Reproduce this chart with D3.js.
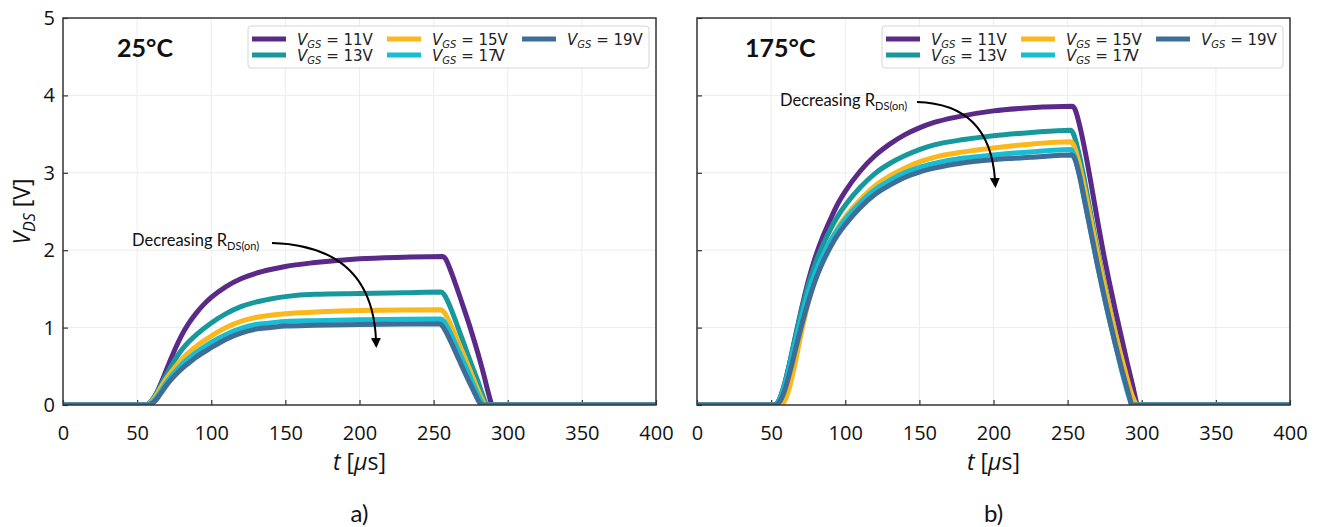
<!DOCTYPE html>
<meta charset="utf-8">
<style>
  body { margin: 0; background: #fff; }
  svg { display: block; }
  .tick text { font-family: "Open Sans", sans-serif; font-size: 20px; fill: #111; }
  .tick line { stroke: #333; stroke-width: 1.2; }
  .domain { display: none; }
</style>
<body>
<div id="chart"></div>
<script src="https://d3js.org/d3.v7.min.js"></script>
<script>
// V_DS traces, [t in us, V_DS in V]
// 25 degC
var vds25_11 = [[0,0],[56,0],[60,0.06],[64,0.19],[68,0.37],[72,0.56],[76,0.74],[80,0.9],[85,1.06],[90,1.19],[95,1.3],[100,1.39],[110,1.53],[120,1.63],[130,1.7],[140,1.75],[150,1.79],[170,1.84],[200,1.89],[230,1.91],[256,1.92],[258,1.89],[261,1.76],[265,1.55],[270,1.27],[275,0.98],[280,0.66],[284,0.38],[287,0.15],[289,0.02],[290,0],[400,0]];
var vds25_13 = [[0,0],[56,0],[60,0.06],[64,0.18],[68,0.33],[72,0.47],[76,0.6],[80,0.71],[85,0.82],[90,0.91],[100,1.06],[110,1.18],[120,1.27],[130,1.33],[140,1.37],[150,1.4],[170,1.43],[200,1.44],[230,1.45],[255,1.46],[257,1.43],[260,1.32],[264,1.13],[268,0.92],[272,0.71],[276,0.5],[280,0.3],[283,0.13],[285,0.03],[286,0],[400,0]];
var vds25_15 = [[0,0],[56,0],[60,0.05],[64,0.16],[68,0.29],[72,0.4],[76,0.5],[80,0.59],[85,0.68],[90,0.76],[100,0.89],[110,1.0],[120,1.08],[130,1.13],[140,1.16],[150,1.18],[170,1.2],[200,1.22],[255,1.23],[257,1.2],[260,1.1],[264,0.93],[268,0.75],[272,0.57],[276,0.38],[280,0.19],[283,0.06],[285,0],[400,0]];
var vds25_17 = [[0,0],[57,0],[61,0.05],[65,0.15],[69,0.27],[73,0.37],[77,0.46],[81,0.54],[86,0.62],[90,0.68],[100,0.81],[110,0.91],[120,0.99],[130,1.04],[140,1.06],[150,1.08],[170,1.09],[200,1.1],[255,1.11],[257,1.08],[260,0.98],[264,0.82],[268,0.65],[272,0.48],[276,0.3],[280,0.13],[282,0.05],[284,0],[400,0]];
var vds25_19 = [[0,0],[58,0],[62,0.05],[66,0.15],[70,0.26],[74,0.35],[78,0.43],[82,0.5],[86,0.56],[90,0.62],[100,0.74],[110,0.85],[120,0.93],[130,0.98],[140,1.0],[150,1.02],[170,1.03],[200,1.04],[254,1.05],[256,1.02],[259,0.92],[263,0.76],[267,0.59],[271,0.42],[275,0.26],[279,0.1],[281,0.03],[283,0],[400,0]];
// 175 degC
var vds175_11 = [[0,0],[52,0],[55,0.05],[58,0.2],[62,0.5],[66,0.85],[70,1.2],[75,1.6],[80,1.92],[85,2.18],[90,2.4],[95,2.6],[100,2.76],[110,3.02],[120,3.22],[130,3.37],[140,3.49],[150,3.58],[160,3.65],[175,3.72],[200,3.8],[225,3.84],[253,3.86],[255,3.82],[258,3.62],[262,3.26],[266,2.84],[270,2.4],[274,1.98],[278,1.6],[282,1.24],[286,0.9],[290,0.56],[294,0.24],[296,0.07],[297,0],[400,0]];
var vds175_13 = [[0,0],[52,0],[55,0.05],[58,0.2],[62,0.5],[66,0.85],[70,1.18],[75,1.55],[80,1.84],[85,2.07],[90,2.27],[95,2.44],[100,2.58],[110,2.81],[120,2.99],[130,3.12],[140,3.22],[150,3.3],[160,3.36],[180,3.43],[200,3.48],[225,3.52],[252,3.55],[254,3.5],[257,3.3],[261,2.94],[265,2.53],[269,2.12],[273,1.73],[277,1.37],[281,1.03],[285,0.71],[289,0.4],[293,0.13],[295,0.02],[296,0],[400,0]];
var vds175_15 = [[0,0],[56,0],[59,0.05],[62,0.2],[66,0.52],[70,0.9],[75,1.32],[80,1.65],[85,1.91],[90,2.12],[95,2.29],[100,2.43],[110,2.65],[120,2.83],[130,2.96],[140,3.06],[150,3.14],[160,3.2],[180,3.27],[200,3.32],[225,3.37],[252,3.4],[254,3.36],[257,3.18],[261,2.84],[265,2.46],[269,2.07],[273,1.7],[277,1.35],[281,1.02],[285,0.71],[289,0.42],[293,0.15],[296,0.02],[297,0],[400,0]];
var vds175_17 = [[0,0],[52,0],[55,0.05],[58,0.18],[62,0.46],[66,0.79],[70,1.1],[75,1.45],[80,1.72],[85,1.94],[90,2.12],[95,2.27],[100,2.4],[110,2.61],[120,2.78],[130,2.9],[140,3.0],[150,3.07],[160,3.12],[180,3.19],[200,3.23],[225,3.27],[252,3.3],[254,3.25],[257,3.06],[261,2.7],[265,2.31],[269,1.92],[273,1.55],[277,1.2],[281,0.88],[285,0.56],[289,0.26],[292,0.07],[294,0],[400,0]];
var vds175_19 = [[0,0],[53,0],[56,0.05],[59,0.18],[63,0.45],[67,0.76],[71,1.06],[75,1.33],[80,1.62],[85,1.85],[90,2.04],[95,2.2],[100,2.33],[110,2.55],[120,2.72],[130,2.84],[140,2.94],[150,3.01],[160,3.06],[180,3.13],[200,3.17],[225,3.2],[253,3.23],[255,3.17],[258,2.96],[262,2.58],[266,2.2],[270,1.82],[274,1.46],[278,1.12],[282,0.8],[286,0.5],[290,0.22],[292,0.08],[293,0],[400,0]];

var vgsLabels = ["11V", "13V", "15V", "17V", "19V"];
var colors = ["#5b2a88", "#16989d", "#fbb81c", "#17bdd3", "#3e6e98"];
var xTicks = [0, 50, 100, 150, 200, 250, 300, 350, 400];
var yTicks = [0, 1, 2, 3, 4, 5];

var panels = [
  { left: 63, series: [vds25_11, vds25_13, vds25_15, vds25_17, vds25_19], temp: "25°C", tag: "a)", yLabels: true,
    ann: { tx: 132, ty: 246, path: "M272,243 Q372,246 376,340" } },
  { left: 697, series: [vds175_11, vds175_13, vds175_15, vds175_17, vds175_19], temp: "175°C", tag: "b)", yLabels: false,
    ann: { tx: 780, ty: 106, path: "M917,102 Q990,104 995,180" } }
];

var W = 1319, H = 527;
var marginTop = 18, plotW = 593, plotH = 387;

var svg = d3.select("#chart").append("svg").attr("width", W).attr("height", H);

svg.append("defs").append("marker")
  .attr("id", "arrow").attr("viewBox", "0 0 10 10").attr("refX", 2).attr("refY", 5)
  .attr("markerWidth", 10).attr("markerHeight", 10).attr("markerUnits", "userSpaceOnUse")
  .attr("orient", "auto")
  .append("path").attr("d", "M0,0 L10,5 L0,10 z").attr("fill", "#000");

var x = d3.scaleLinear().domain([0, 400]).range([0, plotW]);
var y = d3.scaleLinear().domain([0, 5]).range([plotH, 0]);

var line = d3.line().x(d => x(d[0])).y(d => y(d[1])).curve(d3.curveMonotoneX);

panels.forEach(function(p, pi) {
  var g = svg.append("g").attr("transform", "translate(" + p.left + "," + marginTop + ")");

  g.append("clipPath").attr("id", "clip" + pi)
    .append("rect").attr("width", plotW).attr("height", plotH);

  // grid
  g.append("g").selectAll("line").data(xTicks.slice(1, -1)).enter().append("line")
    .attr("x1", d => x(d)).attr("x2", d => x(d)).attr("y1", 0).attr("y2", plotH)
    .attr("stroke", "#ececec").attr("stroke-width", 1);
  g.append("g").selectAll("line").data(yTicks.slice(1, -1)).enter().append("line")
    .attr("y1", d => y(d)).attr("y2", d => y(d)).attr("x1", 0).attr("x2", plotW)
    .attr("stroke", "#ececec").attr("stroke-width", 1);

  // axes, ticks inward
  g.append("g").attr("transform", "translate(0," + plotH + ")")
    .call(d3.axisBottom(x).tickValues(xTicks).tickSizeInner(-5).tickSizeOuter(0).tickPadding(21));
  var ya = d3.axisLeft(y).tickValues(yTicks).tickSizeInner(-5).tickSizeOuter(0).tickPadding(8)
    .tickFormat(p.yLabels ? d3.format("d") : "");
  g.append("g").call(ya);

  // traces
  g.append("g").attr("clip-path", "url(#clip" + pi + ")")
    .selectAll("path").data(p.series).enter().append("path")
    .attr("d", line).attr("fill", "none")
    .attr("stroke", (d, i) => colors[i]).attr("stroke-width", 5)
    .attr("stroke-linejoin", "round").attr("stroke-linecap", "round");

  // frame
  g.append("rect").attr("width", plotW).attr("height", plotH)
    .attr("fill", "none").attr("stroke", "#333").attr("stroke-width", 1.5);

  // temperature
  svg.append("text").attr("x", p.left + (pi == 0 ? 54 : 48)).attr("y", 57)
    .attr("font-family", "Lato, sans-serif").attr("font-weight", "bold").attr("font-size", 25)
    .attr("fill", "#111").text(p.temp);

  // legend
  var lg = svg.append("g").attr("transform", "translate(" + (p.left + 185) + ",26)");
  lg.append("rect").attr("width", 401).attr("height", 42).attr("rx", 3)
    .attr("fill", "#fff").attr("fill-opacity", 0.85).attr("stroke", "#d6d6d6");
  vgsLabels.forEach(function(lab, i) {
    var col = Math.floor(i / 2), row = i % 2;
    var lx = 4 + col * 135, ly = 13 + row * 16;
    lg.append("line").attr("x1", lx).attr("x2", lx + 34).attr("y1", ly).attr("y2", ly)
      .attr("stroke", colors[i]).attr("stroke-width", 5);
    var t = lg.append("text").attr("x", lx + 45).attr("y", ly + 6)
      .attr("font-family", "DejaVu Sans, sans-serif").attr("font-size", 15).attr("fill", "#222");
    t.append("tspan").attr("font-style", "italic").text("V");
    t.append("tspan").attr("font-style", "italic").attr("font-size", 10).attr("dy", 3).text("GS");
    t.append("tspan").attr("dy", -3).text(" = " + lab.slice(0, -1));
    t.append("tspan").attr("dx", lab == "17V" ? -3 : 0).text("V");
  });

  // annotation
  var at = svg.append("text").attr("x", p.ann.tx).attr("y", p.ann.ty)
    .attr("font-family", "Lato, sans-serif").attr("font-size", 16.5).attr("fill", "#111");
  at.append("tspan").text("Decreasing R");
  at.append("tspan").attr("font-size", 11).attr("dy", 4).text("DS(on)");
  svg.append("path").attr("d", p.ann.path).attr("fill", "none")
    .attr("stroke", "#000").attr("stroke-width", 2).attr("marker-end", "url(#arrow)");

  // x label
  var xl = svg.append("text").attr("x", p.left + plotW / 2).attr("y", 470).attr("text-anchor", "middle")
    .attr("font-family", "Open Sans, sans-serif").attr("font-size", 23).attr("fill", "#111");
  xl.append("tspan").attr("font-style", "italic").text("t");
  xl.append("tspan").text(" [");
  xl.append("tspan").attr("font-style", "italic").text("μ");
  xl.append("tspan").text("s]");

  // panel tag
  svg.append("text").attr("x", p.left + plotW / 2).attr("y", 522).attr("text-anchor", "middle")
    .attr("font-family", "Lato, sans-serif").attr("font-size", 24).attr("fill", "#111").text(p.tag);
});

// y label
var yl = svg.append("text").attr("transform", "translate(30," + (marginTop + plotH / 2) + ") rotate(-90)")
  .attr("text-anchor", "middle").attr("font-family", "Open Sans, sans-serif").attr("font-size", 23).attr("fill", "#111");
yl.append("tspan").attr("font-style", "italic").text("V");
yl.append("tspan").attr("font-style", "italic").attr("font-size", 16).attr("dy", 5).text("DS");
yl.append("tspan").attr("dy", -5).text(" [V]");
</script>
</body>
